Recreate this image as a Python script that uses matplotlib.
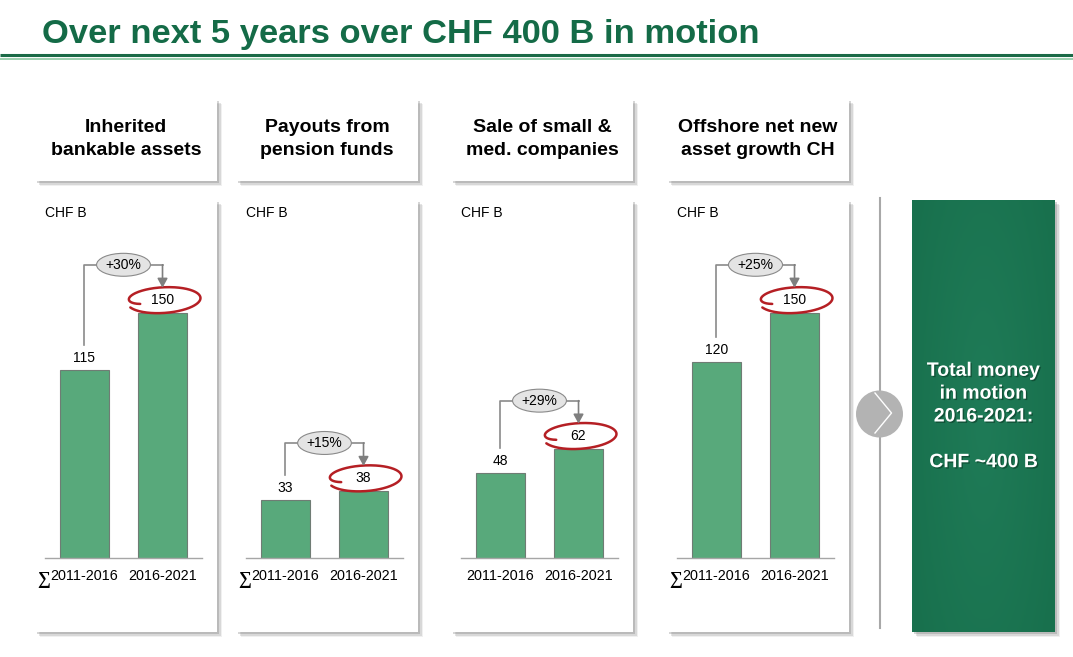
import numpy as np
import matplotlib.pyplot as plt
import matplotlib.patheffects as pe
from matplotlib.patches import Rectangle, Circle
from matplotlib.colors import LinearSegmentedColormap

plt.rcParams['font.family'] = ['Liberation Sans', 'DejaVu Sans']

# chart data
title = "Over next 5 years over CHF 400 B in motion"
headers = ["Inherited\nbankable assets", "Payouts from\npension funds",
           "Sale of small &\nmed. companies", "Offshore net new\nasset growth CH"]
periods = ["2011-2016", "2016-2021"]
sum_mark = [True, True, False, True]
before = [115, 33, 48, 120]
after = [150, 38, 62, 150]
growth = ["+30%", "+15%", "+29%", "+25%"]
unit = "CHF B"
total_text = "Total money\nin motion\n2016-2021:\n\nCHF ~400 B"

W, H = 1073, 657
panel_left = [35, 236, 451, 667]
panel_w = 182
y_top = [219, 203, 203, 219]   # per-panel value range shown
base_px, top_px = 558, 200

GREEN_T = '#146b47'
BAR = '#58a97b'
GRAY = '#8a8a8a'
RED = '#b51f24'

fig = plt.figure(figsize=(W / 100, H / 100), dpi=100)
bg = fig.add_axes([0, 0, 1, 1])
bg.set_xlim(0, W)
bg.set_ylim(H, 0)
bg.axis('off')


def shadow_box(x0, y0, x1, y1, fc='white'):
    for off, a in [(5, 0.10), (3.5, 0.18), (2, 0.28)]:
        bg.add_patch(Rectangle((x0 + off, y0 + off), x1 - x0, y1 - y0,
                               fc='#6e6e6e', ec='none', alpha=a, zorder=1))
    bg.add_patch(Rectangle((x0, y0), x1 - x0, y1 - y0, fc=fc, ec='none', zorder=2))


# title and rules
bg.text(42, 43, title, fontsize=24.8, weight='bold', color=GREEN_T, va='baseline')
bg.plot([0, W], [54.5, 54.5], color='#1b6a47', lw=2.2, solid_capstyle='butt')
bg.plot([0, W], [58.5, 58.5], color='#9ccfae', lw=1.4, solid_capstyle='butt')

for i, left in enumerate(panel_left):
    # header box
    shadow_box(left, 99, left + panel_w, 181)
    bg.text(left + panel_w / 2, 139, headers[i], ha='center', va='center',
            fontsize=14, weight='bold', linespacing=1.42, zorder=3)
    # panel box
    shadow_box(left, 200, left + panel_w, 632)
    bg.text(left + 10, 213, unit, fontsize=10, va='center', zorder=3)

    ax = fig.add_axes([(left + 10) / W, (H - base_px) / H, 157 / W,
                       (base_px - top_px) / H], zorder=5)
    ax.patch.set_visible(False)
    ax.bar([0, 1], [before[i], after[i]], width=0.63, color=BAR,
           edgecolor='#6f7c74', lw=0.8)
    ax.set_xlim(-0.506, 1.506)
    ax.set_ylim(0, y_top[i])
    for s in ['top', 'left', 'right']:
        ax.spines[s].set_visible(False)
    ax.spines['bottom'].set_color('#a6a6a6')
    ax.spines['bottom'].set_linewidth(1)
    ax.set_yticks([])
    ax.set_xticks([0, 1], periods)
    ax.tick_params(axis='x', length=0, pad=8, labelsize=10.4)
    if sum_mark[i]:
        ax.annotate("∑", xy=(0, 0), xycoords=('data', 'axes fraction'),
                    xytext=(-24.5, -15.5), textcoords='offset points',
                    ha='right', va='center', fontsize=13, weight='bold',
                    family=['Liberation Serif', 'DejaVu Serif'])

    py = y_top[i] / (base_px - top_px)   # data units per pixel (y)
    px = 2.012 / 157                    # data units per pixel (x)

    ax.text(0, before[i] + 12 * py, str(before[i]), ha='center', va='center', fontsize=10)
    ax.text(1, after[i] + 13 * py, str(after[i]), ha='center', va='center', fontsize=10)

    # growth bracket
    y0 = before[i] + 25 * py
    yb = after[i] + 48 * py
    tip = after[i] + 25 * py
    ax.plot([0, 0, 1], [y0, yb, yb], color=GRAY, lw=1.2)
    ax.annotate('', xy=(1, tip), xytext=(1, yb),
                arrowprops=dict(arrowstyle='-|>,head_length=0.55,head_width=0.3',
                                color='#7f7f7f', lw=1.2, shrinkA=0, shrinkB=0))
    ax.text(0.5, yb, growth[i], ha='center', va='center', fontsize=10,
            bbox=dict(boxstyle='ellipse,pad=0.08', fc='#e4e4e4', ec=GRAY, lw=0.8))

    # hand-drawn red loop round the new value (clockwise, curl at the left)
    t = np.radians(np.linspace(200, -155, 260))
    frac = np.linspace(0, 1, t.size)
    a = 37 - 12 * np.exp(-frac * 22)
    b = 12.5 - 4 * np.exp(-frac * 22) + 1.5 * frac ** 4
    ex = a * np.cos(t)
    ey = b * np.sin(t)
    rot = np.radians(3)
    rx = ex * np.cos(rot) - ey * np.sin(rot)
    ry = ex * np.sin(rot) + ey * np.cos(rot)
    ax.plot(1 + 1 * px + rx * px, after[i] + 13 * py + ry * py, color=RED, lw=1.8,
            solid_capstyle='round')

# separator, arrow circle
bg.plot([880, 880], [198, 628], color='#a8a8a8', lw=1.5, zorder=2)
bg.add_patch(Circle((879.5, 414), 23.5, fc='#b3b3b3', ec='none', zorder=3))
bg.plot([875, 891.5, 875], [393, 413, 433], color='white', lw=1.0, zorder=4)

# total box with soft radial gradient
for off, a in [(5, 0.10), (3.5, 0.18), (2, 0.28)]:
    bg.add_patch(Rectangle((912 + off, 200 + off), 143, 432, fc='#6e6e6e',
                           ec='none', alpha=a, zorder=1))
gx, gy = np.meshgrid(np.linspace(-1, 1, 60), np.linspace(-1, 1, 180))
rr = np.clip(np.sqrt(gx ** 2 + (gy * 0.7) ** 2), 0, 1.2)
cmap = LinearSegmentedColormap.from_list('g', ['#1f7b57', '#18704d'])
bg.imshow(rr, extent=(912, 1055, 632, 200), cmap=cmap, aspect='auto', zorder=2)
bg.set_xlim(0, W)
bg.set_ylim(H, 0)
bg.text(983.5, 417, total_text, ha='center', va='center', color='white',
        fontsize=14, weight='bold', linespacing=1.45, zorder=4,
        path_effects=[pe.SimplePatchShadow(offset=(1, -1), shadow_rgbFace='#0a3a26',
                                           alpha=0.6), pe.Normal()])

fig.savefig('out.png', dpi=100)
